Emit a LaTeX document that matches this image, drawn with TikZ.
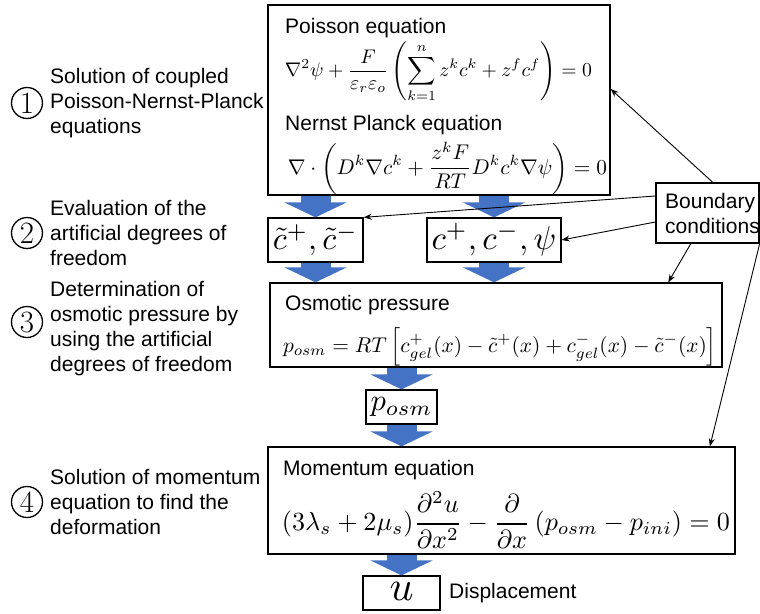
\documentclass[tikz,border=0pt]{standalone}
\usepackage{fontspec}
\newfontfamily\sansf{Liberation Sans}
\usepackage{amsmath}
\usepackage{graphicx}
\usetikzlibrary{arrows.meta,calc}
\definecolor{arrblue}{HTML}{4472C4}
\tikzset{
  box/.style={draw, line width=1.3pt, rectangle, inner sep=0pt},
  lab/.style={font=\sansf\fontsize{21}{25}\selectfont, align=left, anchor=west, inner sep=0pt},
  ttl/.style={font=\sansf\fontsize{21}{25}\selectfont, anchor=west, inner sep=0pt},
  eqn/.style={inner sep=0pt},
  num/.style={draw, circle, line width=1.3pt, minimum size=31pt, inner sep=0pt, font=\fontsize{31}{31}\selectfont},
  flow/.style={arrblue, line width=30pt, -{Triangle[width=62pt,length=15pt]}},
  bcarrow/.style={line width=0.9pt, -{Stealth[length=8pt,width=6pt]}}
}
\begin{document}
\begin{tikzpicture}[x=1pt,y=-1pt]
\useasboundingbox (0,0) rectangle (760,613);

% boxes
\node[box, minimum width=342pt, minimum height=190pt] (pnp) at (439,100) {};
\node[box, minimum width=95pt, minimum height=44pt] (tilde) at (315.5,240) {};
\node[box, minimum width=134pt, minimum height=44pt] (cbox) at (494,240) {};
\node[box, minimum width=452pt, minimum height=84pt] (osm) at (496,325) {};
\node[box, minimum width=71pt, minimum height=34pt] (posm) at (401.5,407) {};
\node[box, minimum width=467pt, minimum height=107pt] (mom) at (501.5,500.5) {};
\node[box, minimum width=77pt, minimum height=34pt] (ubox) at (401.5,593) {};
\node[box, fill=white, minimum width=103pt, minimum height=60pt] (bc) at (707.5,213) {};

% box contents
\node[ttl] (t1) at (285,28) {Poisson equation};
\node[eqn] (e1) at (438.5,72) {\resizebox{307pt}{!}{$\displaystyle \nabla^2\psi+\frac{F}{\varepsilon_r\varepsilon_o}\left(\sum_{k=1}^{n} z^k c^k + z^f c^f\right)=0$}};
\node[ttl] (t2) at (285,125) {Nernst Planck equation};
\node[eqn] (e2) at (447.5,168) {\resizebox{319pt}{!}{$\displaystyle \nabla\cdot\left(D^k\nabla c^k+\frac{z^kF}{RT}D^kc^k\nabla\psi\right)=0$}};
\node[eqn] (e3) at (315.5,240) {\resizebox{85pt}{!}{$\tilde{c}^+,\tilde{c}^-$}};
\node[eqn] (e4) at (494,240) {\resizebox{125pt}{!}{$c^+,c^-,\psi$}};
\node[ttl] (t3) at (285,305) {Osmotic pressure};
\node[eqn] (e5) at (500,347) {\resizebox{434pt}{!}{$\displaystyle p_{osm}=RT\left[c^+_{gel}(x)-\tilde{c}^+(x)+c^-_{gel}(x)-\tilde{c}^-(x)\right]$}};
\node[eqn] (e6) at (401.5,407) {\resizebox{62pt}{!}{$p_{osm}$}};
\node[ttl] (t4) at (283,470) {Momentum equation};
\node[eqn] (e7) at (506,520) {\resizebox{448pt}{!}{$\displaystyle (3\lambda_s+2\mu_s)\frac{\partial^2u}{\partial x^2}-\frac{\partial}{\partial x}\left(p_{osm}-p_{ini}\right)=0$}};
\node[eqn] (e8) at (401.5,591) {\resizebox{24pt}{!}{$u$}};
\node[ttl] (disp) at (449,593) {Displacement};
\node[lab] (bct) at (665,213) {Boundary\\conditions};

% left labels
\node[num] (n1) at (27,103) {1};
\node[lab] (l1) at (50,103) {Solution of coupled\\Poisson-Nernst-Planck\\equations};
\node[num] (n2) at (27,233) {2};
\node[lab] (l2) at (50,233) {Evaluation of the\\artificial degrees of\\freedom};
\node[num] (n3) at (27,322) {3};
\node[lab] (l3) at (50,328.5) {Determination of\\osmotic pressure by\\using the artificial\\degrees of freedom};
\node[num] (n4) at (27,502) {4};
\node[lab] (l4) at (50,502) {Solution of momentum\\equation to find the\\deformation};

% flow arrows
\draw[flow] (tilde.north |- pnp.south) -- (tilde.north);
\draw[flow] (cbox.north |- pnp.south) -- (cbox.north);
\draw[flow] (tilde.south) -- (tilde.south |- osm.north);
\draw[flow] (cbox.south) -- (cbox.south |- osm.north);
\draw[flow] (posm.north |- osm.south) -- (posm.north);
\draw[flow] (posm.south) -- (posm.south |- mom.north);
\draw[flow] (ubox.north |- mom.south) -- (ubox.north);

% boundary condition arrows
\draw[bcarrow] ($(bc.north west)!0.55!(bc.north east)$) -- ([yshift=11pt]pnp.east);
\draw[bcarrow] ([yshift=17pt]bc.west) -- (tilde.north east);
\draw[bcarrow] ([yshift=-9pt]bc.west) -- (cbox.east);
\draw[bcarrow] ($(bc.south west)!0.34!(bc.south east)$) -- ($(osm.north west)!0.88!(osm.north east)$);
\draw[bcarrow] (bc.south east) -- ($(mom.north west)!0.945!(mom.north east)$);
\end{tikzpicture}
\end{document}
